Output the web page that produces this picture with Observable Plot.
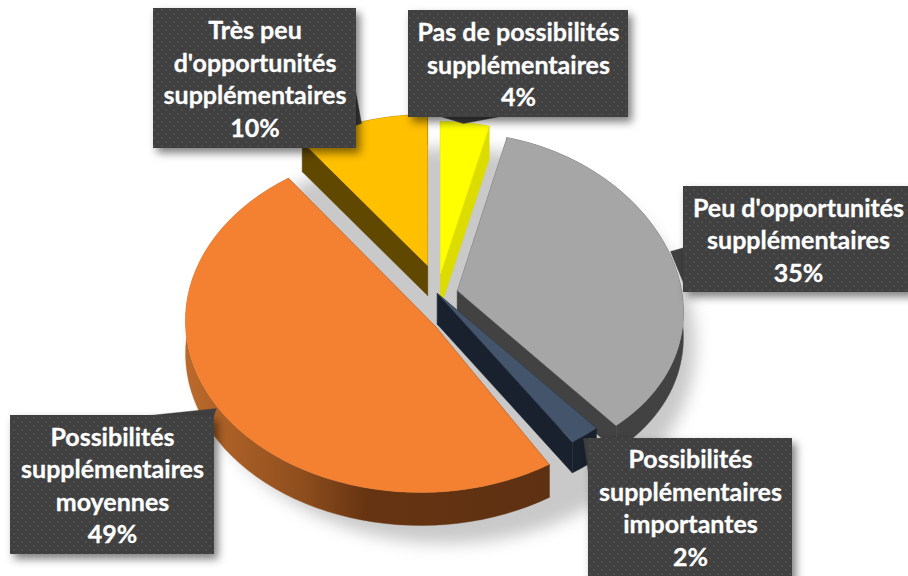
<!DOCTYPE html>
<html><head><meta charset="utf-8">
<script src="https://cdn.jsdelivr.net/npm/d3@7"></script>
<script src="https://cdn.jsdelivr.net/npm/@observablehq/plot@0.6"></script>
<style>html,body{margin:0;padding:0;background:#fff}svg{display:block}</style>
</head><body><div id="chart"></div>
<script>
const categories = ["Pas de possibilités\nsupplémentaires","Peu d'opportunités\nsupplémentaires","Possibilités\nsupplémentaires\nimportantes","Possibilités\nsupplémentaires\nmoyennes","Très peu\nd'opportunités\nsupplémentaires"];
const values = [4,35,2,49,10];
const topColors = ["#ffff00","#a6a6a6","#44546a","#f48032","#ffc000"];
const wallColors = ["#dcdc00","#424242","#18212d","url(#rimOrange)","#614800"];
// pie layout per slice: ellipse centre, tip, radii, perspective, angular trim
const apexX = [440,457,437,420,427];
const apexY = [273,290,292,320,265];
const tipX = [440,457,437,435,427];
const tipY = [273,290,293,326,265];
const radX = [220,224,224,235,235];
const radY = [161,167,168,172,160];
const perspX = [.13,.13,.13,0,.13];
const perspY = [.06,.06,.06,0,.06];
const trimStartDeg = [0,0,0,0.8,0];
const trimEndDeg = [0,0,0,1.8,0];
const depth = [34,25,31,33,30];
const drawOrder = [4,0,1,2,3];
// label boxes: [x1,x2,y1,y2], leader polygon, text offset
const boxX1 = [408,683,588,10,153];
const boxX2 = [628,912,792,214,356];
const boxY1 = [10,186,438,415,8];
const boxY2 = [117,292,580,554,148];
const textDx = [0,2.5,0,0,0];
const textDy = [-0.5,-0.5,-1,-1,-1];
const leaders = [
  [[440,116],[463,123],[500,116]],
  [[684,247],[670,251],[684,285]],
  [[589,438],[583,438],[589,480]],
  [[140,416],[216,408],[213,416]],
  [[355,90],[361,123],[355,125]]
];

let cum = 0;
const spans = values.map((v, i) => {
  const s = [cum * 3.6 - trimStartDeg[i], (cum + v) * 3.6 + trimEndDeg[i]];
  cum += v;
  return s.map(d => d * Math.PI / 180);
});
const project = (i, t) => {
  const X = Math.sin(t), Z = Math.cos(t);
  return [apexX[i] + radX[i] * X / (1 + perspX[i] * Z), apexY[i] - radY[i] * Z / (1 + perspY[i] * Z)];
};
const arc = i => {
  const [a, b] = spans[i];
  return d3.range(0, 61).map(k => project(i, a + (b - a) * k / 60));
};
const down = (pts, i) => pts.map(([x, y]) => [x, y + depth[i]]);
const poly = (pts, fill) => Plot.line(pts, {x: d => d[0], y: d => d[1], fill, stroke: fill, strokeWidth: 0.4, curve: "linear-closed"});

const sliceMarks = drawOrder.flatMap(i => {
  const rim = arc(i);
  const apex = [tipX[i], tipY[i]];
  const first = rim[0], last = rim[rim.length - 1];
  const cut = wallColors[i].startsWith("url") ? "#5e3112" : wallColors[i];
  return [
    poly([apex, first, ...down([first], i), ...down([apex], i)], cut),
    poly([apex, last, ...down([last], i), ...down([apex], i)], cut),
    poly([...rim, ...down(rim, i).reverse()], wallColors[i]),
    poly([apex, ...rim], topColors[i])
  ];
});

const shadow = d3.range(0, 120).map(k => ({t: k / 120 * 2 * Math.PI}));
const labels = values.map((v, i) => ({
  text: `${categories[i]}\n${v}%`,
  x: (boxX1[i] + Math.min(boxX2[i], 908)) / 2 + textDx[i],
  y: (boxY1[i] + Math.min(boxY2[i], 576)) / 2 + textDy[i],
  x1: boxX1[i], x2: boxX2[i], y1: boxY1[i], y2: boxY2[i]
}));

const defs = () => {
  const d = d3.create("svg:defs");
  const g = d.append("linearGradient").attr("id", "rimOrange").attr("gradientUnits", "userSpaceOnUse")
    .attr("x1", 185).attr("x2", 548).attr("y1", 0).attr("y2", 0);
  [[0, "#bb6a2b"], [0.32, "#8f4e1e"], [0.5, "#663412"], [1, "#5e3112"]].forEach(([o, c]) => g.append("stop").attr("offset", o).attr("stop-color", c));
  const p = d.append("pattern").attr("id", "dots").attr("patternUnits", "userSpaceOnUse").attr("width", 8).attr("height", 8);
  p.append("rect").attr("width", 8).attr("height", 8).attr("fill", "#404040");
  [[2, 2], [6, 6]].forEach(([x, y]) => p.append("rect").attr("x", x - 1).attr("y", y - 1).attr("width", 2).attr("height", 2).attr("fill", "#4e4e4e"));
  return d.node();
};

const chart = Plot.plot({
  width: 908, height: 576, margin: 0,
  x: {domain: [0, 908], range: [0, 908], axis: null},
  y: {domain: [0, 576], range: [0, 576], axis: null},
  style: {background: "#fff"},
  marks: [
    defs,
    Plot.line(shadow, {
      x: d => 445 + 250 * Math.sin(d.t), y: d => 345 - 198 * Math.cos(d.t),
      fill: "#c9c9c9", curve: "linear-closed", imageFilter: "blur(8px)"
    }),
    ...sliceMarks,
    ...leaders.map(l => poly(l, "#404040")),
    Plot.rect(labels, {x1: "x1", x2: "x2", y1: "y1", y2: "y2", fill: "url(#dots)", imageFilter: "drop-shadow(4px 5px 4px rgba(0,0,0,0.5))"}),
    Plot.text(labels, {x: "x", y: "y", text: "text", fill: "#fff", stroke: "#fff", strokeWidth: 0.3, fontFamily: "Lato", fontWeight: 700, fontSize: 25, lineHeight: 1.3, textAnchor: "middle"})
  ]
});
document.getElementById("chart").appendChild(chart);
</script></body></html>
